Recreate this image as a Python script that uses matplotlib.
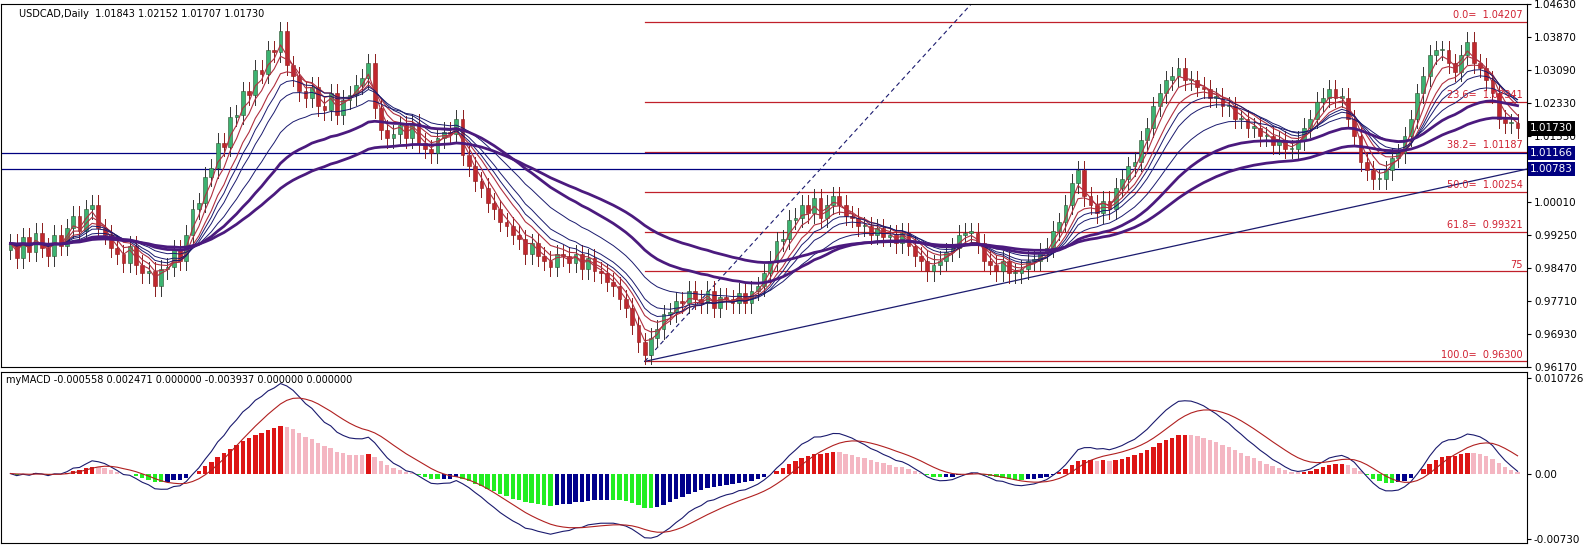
import numpy as np
import matplotlib
matplotlib.use("Agg")
import matplotlib.pyplot as plt
from matplotlib.patches import Rectangle

closes = [
0.9905,0.9870,0.9920,0.9885,0.9930,0.9895,0.9875,0.9925,0.9900,0.9940,
0.9970,0.9935,0.9985,0.9995,0.9940,0.9925,0.9895,0.9880,0.9860,0.9900,
0.9855,0.9835,0.9840,0.9805,0.9845,0.9850,0.9890,0.9865,0.9925,0.9985,
1.0000,1.0060,1.0080,1.0140,1.0130,1.0200,1.0205,1.0260,1.0250,1.0310,
1.0300,1.0355,1.0350,1.0400,1.0320,1.0295,1.0260,1.0245,1.0270,1.0225,
1.0215,1.0255,1.0205,1.0240,1.0250,1.0275,1.0290,1.0325,1.0220,1.0170,
1.0150,1.0160,1.0180,1.0150,1.0185,1.0140,1.0125,1.0115,1.0150,1.0165,
1.0160,1.0195,1.0110,1.0085,1.0050,1.0035,1.0000,0.9985,0.9955,0.9945,
0.9925,0.9915,0.9880,0.9905,0.9875,0.9865,0.9850,0.9880,0.9875,0.9860,
0.9880,0.9845,0.9870,0.9840,0.9835,0.9815,0.9805,0.9775,0.9755,0.9715,
0.9675,0.9645,0.9685,0.9705,0.9740,0.9745,0.9770,0.9765,0.9795,0.9775,
0.9765,0.9795,0.9755,0.9780,0.9775,0.9765,0.9790,0.9765,0.9795,0.9805,
0.9835,0.9865,0.9910,0.9915,0.9960,0.9965,0.9995,0.9975,1.0010,0.9965,
0.9995,1.0015,0.9995,0.9970,0.9965,0.9945,0.9945,0.9925,0.9940,0.9920,
0.9925,0.9905,0.9930,0.9900,0.9875,0.9865,0.9840,0.9855,0.9865,0.9885,
0.9895,0.9925,0.9930,0.9930,0.9905,0.9865,0.9855,0.9840,0.9865,0.9835,
0.9835,0.9845,0.9865,0.9865,0.9885,0.9895,0.9935,0.9955,0.9995,1.0045,
1.0075,1.0015,0.9995,0.9975,1.0005,0.9985,1.0035,1.0055,1.0085,1.0095,
1.0145,1.0175,1.0225,1.0255,1.0285,1.0295,1.0315,1.0285,1.0285,1.0270,
1.0265,1.0245,1.0245,1.0225,1.0225,1.0195,1.0195,1.0175,1.0175,1.0155,
1.0155,1.0135,1.0145,1.0125,1.0125,1.0145,1.0175,1.0195,1.0235,1.0245,
1.0265,1.0245,1.0245,1.0195,1.0155,1.0095,1.0075,1.0055,1.0055,1.0075,
1.0105,1.0115,1.0155,1.0195,1.0255,1.0295,1.0345,1.0355,1.0355,1.0325,
1.0305,1.0345,1.0375,1.0325,1.0315,1.0285,1.0255,1.0195,1.0185,1.0185,
1.0173]
first_open = 0.9890
fib_pct = ["0.0", "23.6", "38.2", "50.0", "61.8", "75", "100.0"]
fib_val = [1.04207, 1.02341, 1.01187, 1.00254, 0.99321, 0.98400, 0.96300]
hlines = [1.01166, 1.00783]
last_price = 1.01730
price_ticks = [1.04630, 1.03870, 1.03090, 1.02330, 1.01550, 1.00010, 0.99250, 0.98470, 0.97710, 0.96930, 0.96170]
trend_end = 1.00783

c = np.array(closes)
o = np.concatenate([[first_open], c[:-1]])
N = len(c)
x = np.arange(N)
wick = 0.0022

def ema(a, n):
    k = 2 / (n + 1); out = np.empty_like(a); out[0] = a[0]
    for i in range(1, len(a)):
        out[i] = a[i] * k + out[i - 1] * (1 - k)
    return out

fig = plt.figure(figsize=(15.96, 5.53), dpi=100)
W, H = 1596, 553
ax = fig.add_axes([1/W, 1 - 367/H, 1526/W, 363/H])
ax2 = fig.add_axes([1/W, 1 - 543/H, 1526/W, 171/H])
xl = (-1.5, N + 0.5)
for a in (ax, ax2):
    a.set_xlim(*xl)
    a.set_xticks([])
    a.yaxis.tick_right()
    a.tick_params(axis='y', labelsize=7.5, length=3, pad=2)
    for s in a.spines.values():
        s.set_color('black'); s.set_linewidth(0.8)

ax.set_ylim(0.96170, 1.04630)
ax.set_yticks(price_ticks)
ax.set_yticklabels([f"{v:.5f}" for v in price_ticks])

for i in range(N):
    up = c[i] >= o[i]
    col = '#3cb371' if up else '#c1272d'
    hi = max(o[i], c[i]) + wick; lo = min(o[i], c[i]) - wick
    ax.plot([i, i], [lo, hi], color='#333333' if up else '#8b1a1a', lw=0.7, zorder=2)
    b = min(o[i], c[i]); h = max(abs(c[i] - o[i]), 0.0003)
    ax.add_patch(Rectangle((i - 0.3, b), 0.6, h, facecolor=col, edgecolor='#2f4f2f' if up else '#8b1a1a', lw=0.4, zorder=3))

for n in (3, 5, 8):
    ax.plot(x, ema(c, n), color='#b03040', lw=0.8, zorder=4)
for n in (10, 13, 21):
    ax.plot(x, ema(c, n), color='#1a1a6e', lw=0.7, zorder=4)
for n in (34, 55):
    ax.plot(x, ema(c, n), color='#4b1a7e', lw=2.0, zorder=4)

imin = int(np.argmin(c))
x0 = imin
for p, v in zip(fib_pct, fib_val):
    ax.plot([x0, xl[1]], [v, v], color='#c0202a', lw=0.9, zorder=1)
    ax.text(N - 0.2, v + 0.0004, f"{p}=  {v:.5f}" if p != "75" else "75", color='#d02030', fontsize=7, ha='right', va='bottom', zorder=6)
for v in hlines:
    ax.axhline(v, color='#000080', lw=0.9, zorder=1)
    ax.text(1.002, v, f"{v:.5f}", transform=ax.get_yaxis_transform(), fontsize=7.5, color='white', va='center', ha='left',
            bbox=dict(facecolor='#000080', edgecolor='none', pad=1.5), clip_on=False, zorder=7)
ax.text(1.002, last_price, f"{last_price:.5f}", transform=ax.get_yaxis_transform(), fontsize=7.5, color='white', va='center', ha='left',
        bbox=dict(facecolor='black', edgecolor='none', pad=1.5), clip_on=False, zorder=7)
ax.plot([x0, xl[1]], [fib_val[-1], trend_end], color='#1a1a6e', lw=0.9, zorder=1)
ax.plot([x0, x0 + 52], [fib_val[-1], 1.04630], color='#1a1a6e', lw=0.8, ls=(0, (4, 3)), zorder=1)
ax.text(0.012, 0.985, "USDCAD,Daily  1.01843 1.02152 1.01707 1.01730", transform=ax.transAxes, fontsize=7, va='top')

macd = ema(c, 12) - ema(c, 26)
sig = ema(macd, 9)
hist = macd * 0.45
colors = []
for i in range(N):
    d = hist[i] - (hist[i - 1] if i else 0)
    if hist[i] >= 0:
        colors.append('#dd1515' if d >= 0 else '#f4b6c2')
    else:
        colors.append('#22ee22' if d < 0 else '#00008b')
ax2.bar(x, hist, width=0.7, color=colors, zorder=2)
ax2.plot(x, macd * 0.85, color='#1a1a6e', lw=0.8, zorder=3)
ax2.plot(x, sig * 0.85, color='#b02020', lw=0.8, zorder=3)
ax2.set_ylim(-0.00780, 0.01140)
ax2.set_yticks([0.010726, 0.0, -0.00730])
ax2.set_yticklabels(["0.010726", "0.00", "-0.00730"])
ax2.text(0.003, 0.985, "myMACD -0.000558 0.002471 0.000000 -0.003937 0.000000 0.000000", transform=ax2.transAxes, fontsize=7, va='top')

fig.savefig("out.png", dpi=100)
